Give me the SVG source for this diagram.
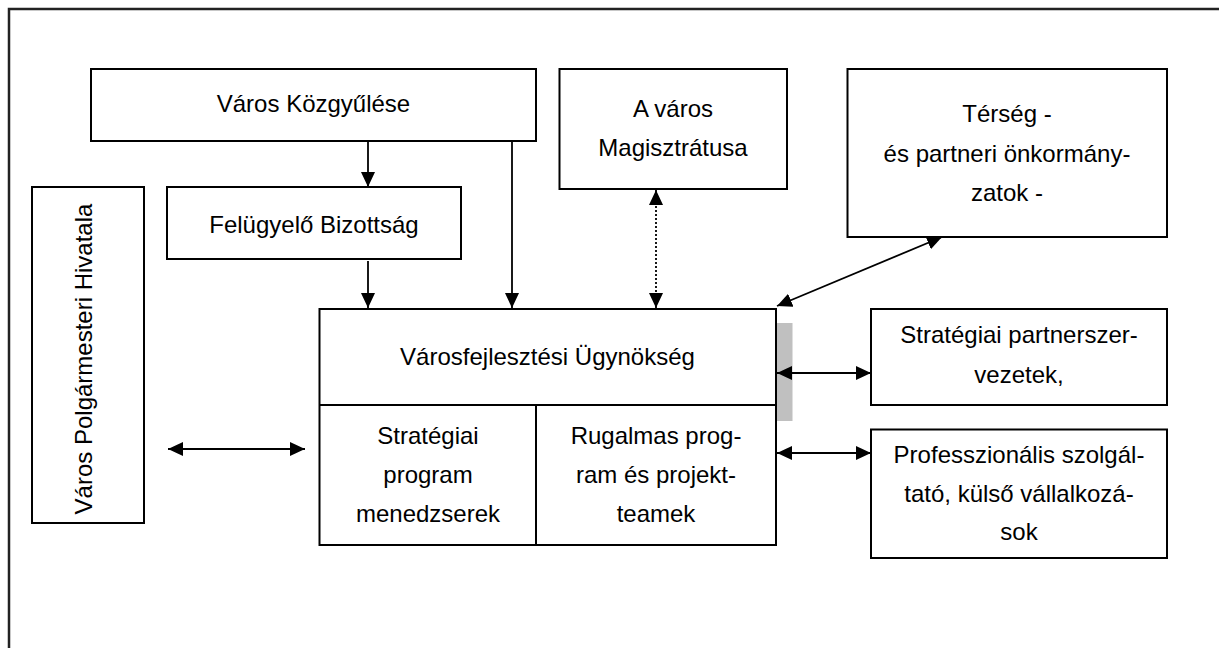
<svg xmlns="http://www.w3.org/2000/svg" width="1219" height="648" viewBox="0 0 1219 648">
<style>
.box{fill:#fff;stroke:#000;stroke-width:2}
.t{font-family:"Liberation Sans",Arial,sans-serif;font-size:24px;text-anchor:middle;fill:#000}
.c{fill:none;stroke:#000;stroke-width:1.8}
.d{stroke-dasharray:2,2}
</style>
<defs>
<marker id="ah" viewBox="0 0 15 14" refX="15" refY="7" markerWidth="15" markerHeight="14" markerUnits="userSpaceOnUse" orient="auto-start-reverse">
<path d="M0,0 L15,7 L0,14 z" fill="#000"/>
</marker>
</defs>
<rect width="1219" height="648" fill="#fff"/>
<path id="frame" d="M9,660 V9 H1230" fill="none" stroke="#222" stroke-width="2.5"/>

<g id="kozgyules">
<rect class="box" x="91" y="69" width="445" height="72"/>
<text class="t" x="313.5" y="112">Város Közgyűlése</text>
</g>
<g id="felugyelo">
<rect class="box" x="167" y="187" width="294" height="72"/>
<text class="t" x="314" y="233">Felügyelő Bizottság</text>
</g>
<g id="magisztratus">
<rect class="box" x="559.5" y="69" width="227.5" height="120"/>
<text class="t" x="673" y="116.5"><tspan x="673">A város</tspan><tspan x="673" y="156">Magisztrátusa</tspan></text>
</g>
<g id="terseg">
<rect class="box" x="847.5" y="69" width="319.5" height="168"/>
<text class="t" x="1007" y="121.5"><tspan x="1007">Térség -</tspan><tspan x="1007" y="161.5">és partneri önkormány-</tspan><tspan x="1007" y="201">zatok -</tspan></text>
</g>
<g id="polgarmesteri">
<rect class="box" x="32" y="187" width="112" height="336"/>
<text class="t" transform="translate(92,359) rotate(-90)">Város Polgármesteri Hivatala</text>
</g>
<g id="ugynokseg">
<rect x="777" y="323" width="15.5" height="98" fill="#c0c0c0"/>
<rect class="box" x="319.5" y="309" width="456.5" height="236"/>
<line x1="319.5" y1="405" x2="776" y2="405" stroke="#000" stroke-width="2"/>
<line x1="536" y1="405" x2="536" y2="545" stroke="#000" stroke-width="2"/>
<text class="t" x="547.5" y="365">Városfejlesztési Ügynökség</text>
<text class="t" x="428" y="444"><tspan x="428">Stratégiai</tspan><tspan x="428" y="483">program</tspan><tspan x="428" y="522">menedzserek</tspan></text>
<text class="t" x="656" y="444"><tspan x="656">Rugalmas prog-</tspan><tspan x="656" y="483">ram és projekt-</tspan><tspan x="656" y="522">teamek</tspan></text>
</g>
<g id="partnerszervezetek">
<rect class="box" x="871" y="309" width="296" height="96"/>
<text class="t" x="1019" y="343"><tspan x="1019">Stratégiai partnerszer-</tspan><tspan x="1019" y="383">vezetek,</tspan></text>
</g>
<g id="professzionalis">
<rect class="box" x="871" y="429.5" width="296" height="128.5"/>
<text class="t" x="1019" y="463"><tspan x="1019">Professzionális szolgál-</tspan><tspan x="1019" y="502">tató, külső vállalkozá-</tspan><tspan x="1019" y="540">sok</tspan></text>
</g>

<g id="connectors">
<line class="c" x1="368" y1="141" x2="368" y2="187" marker-end="url(#ah)"/>
<line class="c" x1="368" y1="261" x2="368" y2="308" marker-end="url(#ah)"/>
<line class="c" x1="512" y1="141" x2="512" y2="308" marker-end="url(#ah)"/>
<line class="c d" x1="656" y1="190" x2="656" y2="308" marker-start="url(#ah)" marker-end="url(#ah)"/>
<line class="c" x1="942" y1="237" x2="777" y2="306" marker-start="url(#ah)" marker-end="url(#ah)"/>
<line class="c" x1="777" y1="373" x2="871" y2="373" marker-start="url(#ah)" marker-end="url(#ah)"/>
<line class="c" x1="777" y1="453" x2="871" y2="453" marker-start="url(#ah)" marker-end="url(#ah)"/>
<line class="c" x1="168" y1="449" x2="305" y2="449" marker-start="url(#ah)" marker-end="url(#ah)"/>
</g>
</svg>
